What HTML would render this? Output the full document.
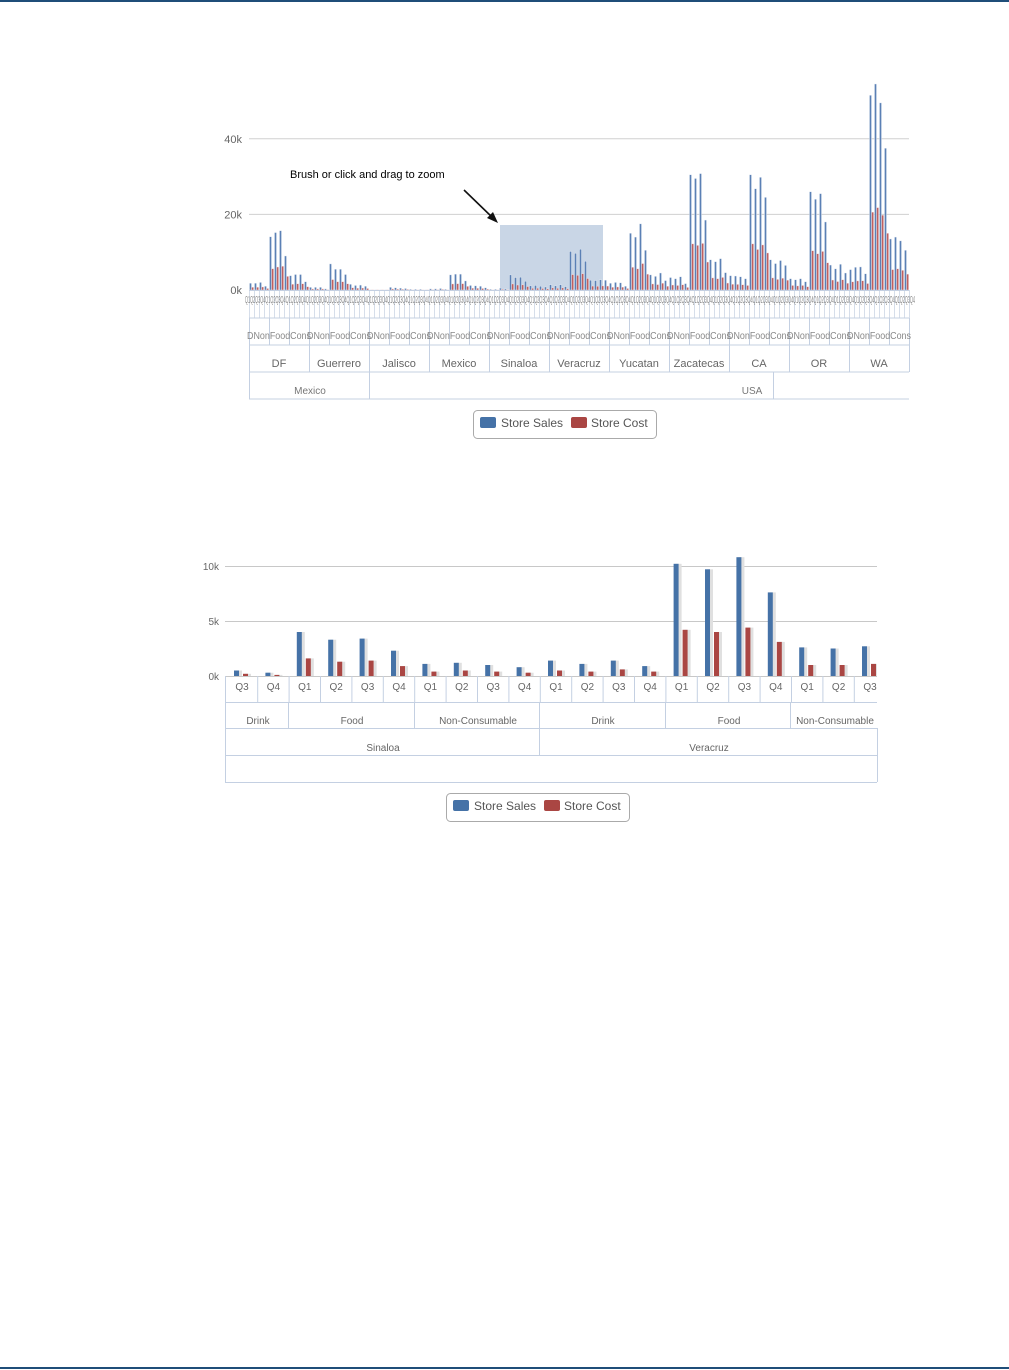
<!DOCTYPE html>
<html><head><meta charset="utf-8"><style>
html,body{margin:0;padding:0;background:#fff;width:1009px;height:1370px;overflow:hidden}
svg{display:block}
text{font-family:"Liberation Sans",Arial,sans-serif}
</style></head><body>
<svg id="s" width="1009" height="1370" xmlns="http://www.w3.org/2000/svg">
<rect x="0" y="0" width="1009" height="2" fill="#1f4e79"/>
<rect x="0" y="1367" width="1009" height="2" fill="#1f4e79"/>
<g id="top"></g>
<g id="bot"></g>
</svg>
<script>
var NS="http://www.w3.org/2000/svg";
function el(p,t,a,txt){var e=document.createElementNS(NS,t);for(var k in a)e.setAttribute(k,a[k]);if(txt!==undefined)e.textContent=txt;p.appendChild(e);return e;}
var T=document.getElementById('top'),B=document.getElementById('bot');
// ---------- TOP CHART ----------
var x0=249,x1=909,base=290,kp=3.78;
// gridlines
[[0,"0k"],[20,"20k"],[40,"40k"]].forEach(function(g){var y=base-g[0]*kp;
 if(g[0]>0)el(T,'line',{x1:x0,x2:x1,y1:y,y2:y,stroke:'#d0d0d0','stroke-width':1});
 el(T,'text',{x:242,y:y+4,'text-anchor':'end','font-size':11,fill:'#666'},g[1]);});
// brush
el(T,'rect',{x:500,y:225,width:103,height:65,fill:'#c9d6e6'});
var states=["DF","Guerrero","Jalisco","Mexico","Sinaloa","Veracruz","Yucatan","Zacatecas","CA","OR","WA"];
var data=[
[1.8,1.8,2,1,14.1,15.2,15.7,9,3.8,4.1,4.1,2.2],
[0.7,0.7,0.7,0.3,6.9,5.5,5.5,4.1,1.5,1.2,1.3,1],
[0.1,0.1,0.1,0.1,0.7,0.6,0.5,0.4,0.2,0.2,0.2,0.1],
[0.3,0.3,0.4,0.2,4,4.2,4.2,2.4,1.2,1.1,1,0.6],
[0.2,0.2,0.5,0.3,4,3.3,3.4,2.3,1.1,1.2,1,0.8],
[1.4,1.1,1.4,0.9,10.2,9.7,10.8,7.6,2.6,2.5,2.7,2.6],
[1.8,2,1.9,1,15,14,17.5,10.5,4,3.6,4.5,2.5],
[3.3,3,3.5,1.7,30.5,29.5,30.8,18.5,8,7.5,8.3,4.6],
[3.8,3.7,3.5,3,30.5,26.8,29.8,24.5,8,7,7.8,6.5],
[3,2.7,3,2.2,26,24,25.5,18,6.6,5.6,6.8,4.5],
[5.4,6,6.1,4.3,51.5,54.5,49.5,37.5,13.5,14,13,10.5]];
var sw=60,qw=5;
data.forEach(function(d,si){d.forEach(function(v,q){var gx=x0+si*sw+q*qw;
 var h=v*kp,c=v*0.4*kp;
 el(T,'rect',{x:gx+0.5,y:base-h,width:2,height:h,fill:'#5b80b5',stroke:'#e8eef6','stroke-width':0.4});
 el(T,'rect',{x:gx+2.6,y:base-c,width:2,height:c,fill:'#c06060',stroke:'#f4e6e6','stroke-width':0.4});
});});
// axis rows
var lc='#c4d0e2';
el(T,'line',{x1:x0,x2:x1,y1:base+0.5,y2:base+0.5,stroke:lc});
for(var i=0;i<=132;i++){var x=x0+i*qw+0.5;el(T,'line',{x1:x,x2:x,y1:base,y2:318,stroke:lc,'stroke-width':0.7});}
var qs=["Q1","Q2","Q3","Q4"];var qt="";for(i=0;i<132;i++)qt+=qs[i%4];
el(T,'text',{x:245,y:303,'font-size':10,fill:'#888',textLength:670,lengthAdjust:'spacingAndGlyphs'},qt);
el(T,'line',{x1:x0,x2:x1,y1:318,y2:318,stroke:lc});
for(i=0;i<=33;i++){var x=x0+i*20+0.5;el(T,'line',{x1:x,x2:x,y1:318,y2:345,stroke:lc});}
var ct="";for(i=0;i<11;i++)ct+="DNoFoCons";
for(i=0;i<11;i++){var bx=x0+i*sw;
 el(T,'text',{x:bx-2,y:339,'font-size':10,fill:'#888',textLength:64,lengthAdjust:'spacingAndGlyphs'},"DNonFoodCons");}
el(T,'line',{x1:x0,x2:x1,y1:345,y2:345,stroke:lc});
for(i=0;i<=11;i++){var x=x0+i*sw+0.5;el(T,'line',{x1:x,x2:x,y1:345,y2:372,stroke:lc});}
states.forEach(function(s,i){el(T,'text',{x:x0+i*sw+30,y:367,'font-size':11,fill:'#666','text-anchor':'middle'},s);});
el(T,'line',{x1:x0,x2:x1,y1:372,y2:372,stroke:lc});
[249.5,369.5,773.5].forEach(function(x){el(T,'line',{x1:x,x2:x,y1:372,y2:399,stroke:lc});});
el(T,'line',{x1:x0,x2:x1,y1:399,y2:399,stroke:lc});
el(T,'text',{x:310,y:394,'font-size':10,fill:'#777','text-anchor':'middle'},"Mexico");
el(T,'text',{x:752,y:394,'font-size':10,fill:'#777','text-anchor':'middle'},"USA");
// annotation
el(T,'text',{x:290,y:178,'font-size':11,fill:'#000'},"Brush or click and drag to zoom");
el(T,'line',{x1:464,y1:190,x2:494,y2:219,stroke:'#111','stroke-width':1.6});
el(T,'polygon',{points:"498,223 487,218 493,212",fill:'#111'});
// legend
function legend(G,x,y){el(G,'rect',{x:x+0.5,y:y+0.5,width:183,height:28,rx:4,fill:'#fff',stroke:'#aaa'});
 el(G,'rect',{x:x+7,y:y+7,width:16,height:11,rx:2,fill:'#4572a7'});
 el(G,'text',{x:x+28,y:y+17,'font-size':12,fill:'#555'},"Store Sales");
 el(G,'rect',{x:x+98,y:y+7,width:16,height:11,rx:2,fill:'#aa4643'});
 el(G,'text',{x:x+118,y:y+17,'font-size':12,fill:'#555'},"Store Cost");}
legend(T,473,410);
// ---------- BOTTOM CHART ----------
var bx0=225,bx1=877,bb=676,bk=11,gw=31.4,gs=226.3;
[[0,"0k"],[5,"5k"],[10,"10k"]].forEach(function(g){var y=bb-g[0]*bk;
 el(B,'line',{x1:bx0,x2:bx1,y1:y+0.5,y2:y+0.5,stroke:'#c8c8c8'});
 el(B,'text',{x:219,y:y+4,'text-anchor':'end','font-size':10,fill:'#666'},g[1]);});
var bd=[[0.5,0.2],[0.3,0.1],[4,1.6],[3.3,1.3],[3.4,1.4],[2.3,0.9],[1.1,0.4],[1.2,0.5],[1.0,0.4],[0.8,0.3],[1.4,0.5],[1.1,0.4],[1.4,0.6],[0.9,0.4],[10.2,4.2],[9.7,4.0],[10.8,4.4],[7.6,3.1],[2.6,1.0],[2.5,1.0],[2.7,1.1]];
var bl=["Q3","Q4","Q1","Q2","Q3","Q4","Q1","Q2","Q3","Q4","Q1","Q2","Q3","Q4","Q1","Q2","Q3","Q4","Q1","Q2","Q3"];
var clip=el(B,'clipPath',{id:'cp'});el(clip,'rect',{x:bx0,y:500,width:bx1-bx0,height:300});
var BG=el(B,'g',{'clip-path':'url(#cp)'});
bd.forEach(function(d,i){var c=gs+i*gw+gw/2;var h=d[0]*bk,h2=d[1]*bk;
 el(BG,'rect',{x:c-6,y:bb-h,width:6,height:h,fill:'#e0e0e0'});
 el(BG,'rect',{x:c-8,y:bb-h,width:5,height:h,fill:'#4572a7'});
 el(BG,'rect',{x:c+3,y:bb-h2,width:6,height:h2,fill:'#e0e0e0'});
 el(BG,'rect',{x:c+1,y:bb-h2,width:5,height:h2,fill:'#aa4643'});
 el(BG,'text',{x:c,y:690,'font-size':10,fill:'#666','text-anchor':'middle'},bl[i]);
 var lx=gs+(i+1)*gw;el(BG,'line',{x1:lx,x2:lx,y1:676,y2:702,stroke:lc});
});
el(B,'line',{x1:bx0+0.5,x2:bx0+0.5,y1:676,y2:782,stroke:lc});
el(B,'line',{x1:bx1+0.5,x2:bx1+0.5,y1:728,y2:782,stroke:lc});
el(B,'line',{x1:bx0,x2:bx1,y1:702.5,y2:702.5,stroke:lc});
el(B,'line',{x1:bx0,x2:bx1,y1:728.5,y2:728.5,stroke:lc});
el(B,'line',{x1:bx0,x2:bx1,y1:755.5,y2:755.5,stroke:lc});
el(B,'line',{x1:bx0,x2:bx1,y1:782.5,y2:782.5,stroke:lc});
[288.5,414.5,539.5,665.5,790.5].forEach(function(x){el(B,'line',{x1:x,x2:x,y1:702,y2:728,stroke:lc});});
el(B,'line',{x1:539.5,x2:539.5,y1:728,y2:755,stroke:lc});
[["Drink",258],["Food",352],["Non-Consumable",478],["Drink",603],["Food",729],["Non-Consumable",835]].forEach(function(a){
 el(B,'text',{x:a[1],y:724,'font-size':10,fill:'#666','text-anchor':'middle'},a[0]);});
el(B,'text',{x:383,y:751,'font-size':10,fill:'#666','text-anchor':'middle'},"Sinaloa");
el(B,'text',{x:709,y:751,'font-size':10,fill:'#666','text-anchor':'middle'},"Veracruz");
legend(B,446,793);
</script>
</body></html>
